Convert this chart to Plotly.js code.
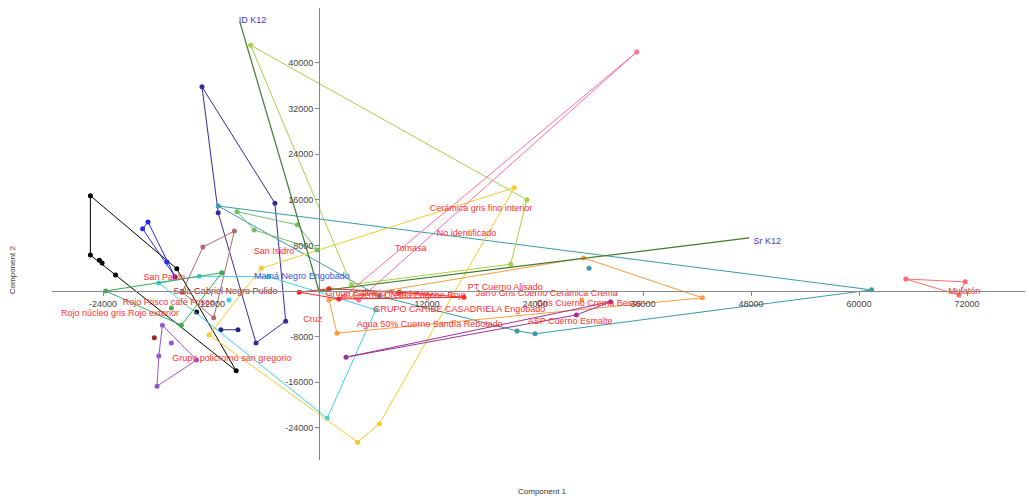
<!DOCTYPE html>
<html><head><meta charset="utf-8">
<script src="https://cdn.plot.ly/plotly-3.0.1.min.js"></script>
<style>html,body{margin:0;padding:0;background:#fff}</style>
</head><body>
<div id="chart" style="width:1029px;height:499px"></div>
<script>
// ---- data (Component 1, Component 2 scores per group) ----
const blackX  = [-25400,-25400,-24400,-24100,-22600,-15800,-13600,-9200];
const blackY  = [16700,6300,5400,4900,2800,3900,-3700,-14000];
const indigoX = [-13000,-4900,-3700,-7000,-11200];
const indigoY = [35800,15400,-5300,-9100,13700];
const blueX   = [-19600,-19000,-16900,-16000];
const blueY   = [10900,12100,5100,2500];
const navyX   = [-10900,-9000];
const navyY   = [-6800,-6800];
const violetX = [-17400,-17800,-18000,-13600,-16400];
const violetY = [-6000,-11400,-16700,-12100,-9100];
const brownX  = [-12900,-15200,-11700,-9400];
const brownY  = [7700,-200,-4700,10500];
const darkRedX = [-18300];
const darkRedY = [-8200];
const tealX   = [-11200,61400,24000,22000,6700,30000];
const tealY   = [14900,200,-7500,-7000,-900,4000];
const cyanX   = [-13300,-5600,6300,900,-10000,-17800];
const cyanY   = [2600,2500,-3300,-22300,-1600,1400];
const limeX   = [-7600,23100,21300,3600];
const limeY   = [43100,16000,4700,1100];
const yellowX = [21700,6700,4300,-12200,-6400];
const yellowY = [18100,-23300,-26500,-7700,4000];
const orangeX = [29400,42600,29200,2000,1100];
const orangeY = [5800,-1200,-1600,-7400,-1600];
const purpleX = [3000,28600,32400];
const purpleY = [-11600,-4200,-1900];
const pinkX   = [35300,2800,4400];
const pinkY   = [41900,-900,-1600];
const mulatonX = [65200,71800,71100];
const mulatonY = [2100,1600,-700];
const greenX  = [-23700,-10800,-15300,-16400];
const greenY  = [0,3200,-6000,-3000];
const seaX    = [-9100,-7200,-2400,-200];
const seaY    = [13900,10700,11600,7200];
const redX    = [-2200,1100,8900,16100,2200];
const redY    = [-200,400,-200,-1100,-1400];

// biplot variable vectors
const vectorNames = ["ID K12","Sr K12"];
const vectorX = [-8800,47800];
const vectorY = [47200,9300];

// group / variable labels
const labelText = ["ID K12","Sr K12","Cerámica gris fino interior","No identificado","Tomasa",
  "San Isidro","Mamá Negro Engobado","San Pablo","Sala Gabriel Negro Pulido","Rojo Frisco café Frisco",
  "Rojo núcleo gris Rojo exterior","Grupo policromo san gregorio","Cruz",
  "Agua 50% Cuerno Sandía Rebotado","GRUPO CARIBE CASADRIELA Engobado","PT Cuerno Alisado",
  "Jarro Gris Cuerno Cerámica Crema","Gris Cuerno Crema Besos","ASP Cuerno Esmalte","Mulatón",
  "Grupo Calvario Rojo Inciso","Cuerno Crema Engobe Rojo"];
const labelX = [-7400,49800,18000,16400,10200,-5000,-1900,-17200,-10400,-16700,
  -22100,-9700,-700,12300,15600,20700,25300,30000,27900,71700,6700,10000];
const labelY = [47400,8600,14400,10000,7400,6800,2500,2300,-200,-2100,
  -4000,-11800,-5100,-6000,-3300,500,-500,-2300,-5400,-200,-400,-900];

const xTicks = [-24000,-12000,12000,24000,36000,48000,60000,72000];
const yTicks = [-24000,-16000,-8000,8000,16000,24000,32000,40000];

// ---- styling ----
const groups = [
  {x:blackX,y:blackY,c:'#000000'},
  {x:indigoX,y:indigoY,c:'#3a2a99'},
  {x:blueX,y:blueY,c:'#2a2ae0'},
  {x:navyX,y:navyY,c:'#1f2a80'},
  {x:violetX,y:violetY,c:'#9955cc'},
  {x:brownX,y:brownY,c:'#b06a6a'},
  {x:darkRedX,y:darkRedY,c:'#992222'},
  {x:tealX,y:tealY,c:'#3a9aa6'},
  {x:cyanX,y:cyanY,c:'#3cd0ea'},
  {x:limeX,y:limeY,c:'#a6d046'},
  {x:yellowX,y:yellowY,c:'#f2cc2a'},
  {x:orangeX,y:orangeY,c:'#ff9a40'},
  {x:purpleX,y:purpleY,c:'#993399'},
  {x:pinkX,y:pinkY,c:'#ff6f9a'},
  {x:mulatonX,y:mulatonY,c:'#ff6b6b'},
  {x:greenX,y:greenY,c:'#3aaa55'},
  {x:seaX,y:seaY,c:'#77bb66'},
  {x:redX,y:redY,c:'#ff2020'}
];

function hull(xs, ys){
  const p = xs.map((v,i)=>[v,ys[i]]).sort((a,b)=>a[0]-b[0]||a[1]-b[1]);
  if (p.length < 3) return p;
  const cr=(o,a,b)=>(a[0]-o[0])*(b[1]-o[1])-(a[1]-o[1])*(b[0]-o[0]);
  const lo=[],up=[];
  for(const q of p){while(lo.length>=2&&cr(lo[lo.length-2],lo[lo.length-1],q)<=0)lo.pop();lo.push(q);}
  for(let i=p.length-1;i>=0;i--){const q=p[i];while(up.length>=2&&cr(up[up.length-2],up[up.length-1],q)<=0)up.pop();up.push(q);}
  const h=lo.slice(0,-1).concat(up.slice(0,-1));
  h.push(h[0]);
  return h;
}

const traces = [];
groups.forEach(g=>{
  const h = hull(g.x,g.y);
  if (h.length>1) traces.push({type:'scatter',mode:'lines',x:h.map(p=>p[0]),y:h.map(p=>p[1]),
    line:{color:g.c,width:1},hoverinfo:'skip'});
  traces.push({type:'scatter',mode:'markers',x:g.x,y:g.y,marker:{color:g.c,size:5},hoverinfo:'skip'});
});
vectorX.forEach((vx,i)=>{
  traces.push({type:'scatter',mode:'lines',x:[0,vx],y:[0,vectorY[i]],line:{color:'#3f7a2c',width:1.2},hoverinfo:'skip'});
});
const labelColors = labelText.map(t=>{
  if (vectorNames.includes(t)) return '#3b3bd0';
  if (t==='Mamá Negro Engobado') return '#3355dd';
  if (t.startsWith('Sala')) return '#aa2a2a';
  return '#ff3030';
});
traces.push({type:'scatter',mode:'text',x:labelX,y:labelY,text:labelText,
  textposition:'middle center',textfont:{family:'Liberation Sans, Arial, sans-serif',size:9,color:labelColors},
  hoverinfo:'skip'});

const xr=[-29667,78444], yr=[-29634,49623];
const layout = {
  width:1029,height:499,margin:{l:52,r:4,t:8,b:39},
  paper_bgcolor:'#fff',plot_bgcolor:'#fff',showlegend:false,hovermode:false,
  font:{family:'Liberation Sans, Arial, sans-serif',size:9,color:'#444'},
  xaxis:{range:xr,anchor:'free',position:(0-yr[0])/(yr[1]-yr[0]),showgrid:false,zeroline:false,
    showline:true,linecolor:'#888',linewidth:1.2,ticks:'outside',ticklen:4,tickcolor:'#888',
    tickvals:xTicks,ticktext:xTicks.map(v=>String(v)),tickfont:{size:9,color:'#444'}},
  yaxis:{range:yr,anchor:'free',position:(0-xr[0])/(xr[1]-xr[0]),showgrid:false,zeroline:false,
    showline:true,linecolor:'#888',linewidth:1.2,ticks:'outside',ticklen:4,tickcolor:'#888',
    tickvals:yTicks,ticktext:yTicks.map(v=>String(v)),tickfont:{size:9,color:'#444'}},
  annotations:[
    {text:'Component 1',xref:'paper',yref:'paper',x:0.5046,y:-0.0686,xanchor:'center',yanchor:'middle',showarrow:false,font:{size:8,color:'#333'}},
    {text:'Component 2',xref:'paper',yref:'paper',x:-0.0411,y:0.42,xanchor:'center',yanchor:'middle',textangle:-90,showarrow:false,font:{size:8,color:'#333'}}
  ]
};
Plotly.newPlot('chart',traces,layout,{staticPlot:true,displayModeBar:false});
</script>
</body></html>
